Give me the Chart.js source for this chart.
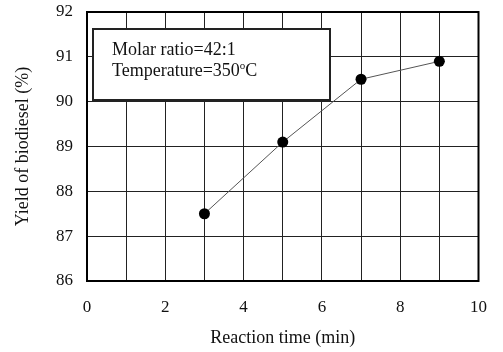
<!DOCTYPE html>
<html>
<head>
<meta charset="utf-8">
<script src="https://cdn.jsdelivr.net/npm/chart.js@4/dist/chart.umd.min.js"></script>
<style>
	html, body { margin: 0; padding: 0; background: #fff; }
	#wrap { position: relative; width: 503px; height: 352px; }
</style>
</head>
<body>
<div id="wrap"><canvas id="YieldChart" width="503" height="352"></canvas></div>
<script>
const reaction_time = [3, 5, 7, 9];
const yield_pct = [87.5, 89.1, 90.5, 90.9];
const x_labels = [0, 2, 4, 6, 8, 10];
const y_labels = [86, 87, 88, 89, 90, 91, 92];
const note_lines = ["Molar ratio=42:1", "Temperature=350"];

const SERIF = "'Liberation Serif', 'Times New Roman', serif";

// frame around plot area + the condition box in the upper left
const frame_plugin = {
	id: "frame",
	afterDraw(chart) {
		const ctx = chart.ctx;
		const a = chart.chartArea;
		ctx.save();
		ctx.strokeStyle = "#000";
		ctx.lineWidth = 2;
		ctx.strokeRect(a.left, a.top, a.right - a.left, a.bottom - a.top);

		const bx = a.left + 6, by = a.top + 17, bw = 237, bh = 71;
		ctx.fillStyle = "#fff";
		ctx.fillRect(bx, by, bw, bh);
		ctx.lineWidth = 2;
		ctx.strokeStyle = "#222";
		ctx.strokeRect(bx, by, bw, bh);

		ctx.fillStyle = "#111";
		ctx.textBaseline = "alphabetic";
		ctx.font = "18px " + SERIF;
		ctx.fillText(note_lines[0], bx + 19, by + 26);
		ctx.fillText(note_lines[1], bx + 19, by + 47);
		let w = ctx.measureText(note_lines[1]).width;
		ctx.font = "11px " + SERIF;
		ctx.fillText("o", bx + 19 + w, by + 40);
		let w2 = ctx.measureText("o").width;
		ctx.font = "18px " + SERIF;
		ctx.fillText("C", bx + 19 + w + w2, by + 47);
		ctx.restore();
	}
};

const context = document.getElementById("YieldChart").getContext("2d");
const chart = new Chart(context, {
	type: "scatter",
	data: {
		datasets: [{
			data: reaction_time.map((t, i) => ({ x: t, y: yield_pct[i] })),
			showLine: true,
			borderColor: "#555",
			borderWidth: 1,
			pointRadius: 5.5,
			pointBackgroundColor: "#000",
			pointBorderColor: "#000",
			pointBorderWidth: 0
		}]
	},
	options: {
		responsive: false,
		animation: false,
		layout: { padding: { top: 12, right: 21, left: 0, bottom: 0 } },
		plugins: { legend: { display: false }, tooltip: { enabled: false } },
		scales: {
			x: {
				type: "linear",
				min: 0,
				max: 10,
				afterFit: s => { s.height = 71; },
				grid: { color: "#222", lineWidth: 1, drawTicks: false },
				border: { display: false },
				ticks: {
					stepSize: 1,
					padding: 16,
					color: "#111",
					font: { family: SERIF, size: 17 },
					callback: v => x_labels.includes(v) ? v : ""
				},
				title: {
					display: true,
					text: "Reaction time (min)",
					color: "#111",
					font: { family: SERIF, size: 18 },
					padding: { top: 0, bottom: 3 }
				}
			},
			y: {
				min: 86,
				max: 92,
				afterFit: s => { s.width = 87; s.paddingTop = 0; s.paddingBottom = 0; },
				grid: { color: "#222", lineWidth: 1, drawTicks: false },
				border: { display: false },
				ticks: {
					stepSize: 0.5,
					padding: 14,
					color: "#111",
					font: { family: SERIF, size: 17 },
					callback: v => y_labels.includes(v) ? v : ""
				},
				title: {
					display: true,
					text: "Yield of biodiesel (%)",
					color: "#111",
					font: { family: SERIF, size: 18 },
					padding: { top: 12, bottom: 0 }
				}
			}
		}
	},
	plugins: [frame_plugin]
});
</script>
</body>
</html>
